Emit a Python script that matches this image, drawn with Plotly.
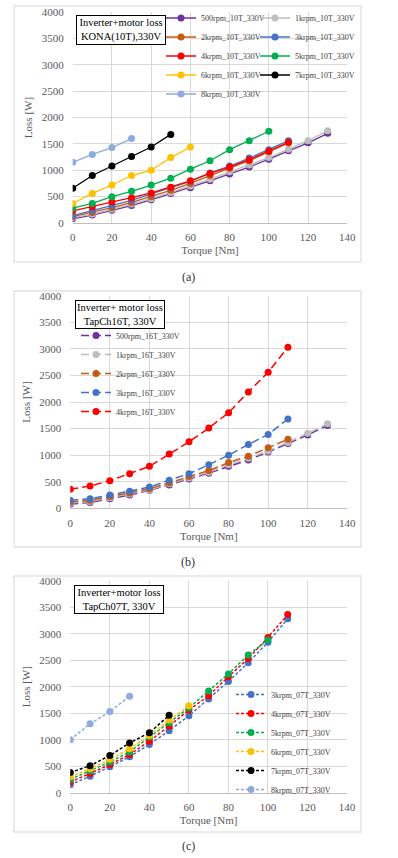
import plotly.graph_objects as go

W, H = 398, 858

# ---------------- data ----------------
torque = [0, 10, 20, 30, 40, 50, 60, 70, 80, 90, 100, 110, 120, 130]

# (a) KONA(10T), 330V
a_names = ["500rpm_10T_330V", "1krpm_10T_330V", "2krpm_10T_330V", "3krpm_10T_330V",
           "4krpm_10T_330V", "5krpm_10T_330V", "6krpm_10T_330V", "7krpm_10T_330V",
           "8krpm_10T_330V"]
a_500 = [80, 150, 240, 330, 440, 560, 670, 800, 930, 1060, 1210, 1370, 1520, 1700]
a_1k = [100, 170, 260, 360, 460, 580, 700, 830, 970, 1100, 1240, 1400, 1560, 1750]
a_2k = [120, 200, 290, 390, 500, 620, 750, 900, 1040, 1180, 1350, 1520]
a_3k = [140, 240, 330, 430, 550, 670, 790, 950, 1080, 1230, 1390, 1560]
a_4k = [230, 310, 400, 480, 570, 680, 800, 940, 1060, 1200, 1360, 1530]
a_5k = [280, 370, 500, 600, 720, 850, 1020, 1180, 1390, 1560, 1740]
a_6k = [370, 560, 720, 900, 1000, 1240, 1440]
a_7k = [660, 900, 1080, 1260, 1440, 1680]
a_8k = [1150, 1300, 1430, 1600]

# (b) TapCh16T, 330V
b_names = ["500rpm_16T_330V", "1krpm_16T_330V", "2krpm_16T_330V", "3krpm_16T_330V",
           "4krpm_16T_330V"]
b_500 = [80, 110, 180, 250, 340, 440, 550, 660, 790, 910, 1060, 1220, 1380, 1560]
b_1k = [100, 130, 200, 270, 350, 460, 570, 680, 820, 940, 1080, 1240, 1410, 1590]
b_2k = [120, 150, 220, 290, 370, 480, 600, 710, 860, 980, 1140, 1300]
b_3k = [150, 180, 250, 320, 400, 530, 650, 820, 1000, 1200, 1390, 1680]
b_4k = [360, 420, 520, 650, 790, 1020, 1250, 1510, 1800, 2190, 2560, 3030]

# (c) TapCh07T, 330V
c_names = ["3krpm_07T_330V", "4krpm_07T_330V", "5krpm_07T_330V", "6krpm_07T_330V",
           "7krpm_07T_330V", "8krpm_07T_330V"]
c_3k = [150, 310, 490, 680, 910, 1170, 1450, 1770, 2100, 2450, 2840, 3280]
c_4k = [200, 360, 530, 720, 970, 1260, 1560, 1830, 2190, 2530, 2930, 3360]
c_5k = [250, 410, 580, 770, 1050, 1320, 1600, 1920, 2240, 2600, 2880]
c_6k = [300, 450, 630, 830, 1080, 1370, 1640]
c_7k = [380, 510, 700, 940, 1130, 1460]
c_8k = [1000, 1300, 1530, 1820]

x_ticks = [0, 20, 40, 60, 80, 100, 120, 140]
y_ticks = [0, 500, 1000, 1500, 2000, 2500, 3000, 3500, 4000]

# colours (Excel palette)
PURPLE, GRAY, ORANGE, BLUE = "#7030A0", "#BDBDBD", "#C55A11", "#4472C4"
RED, GREEN, GOLD, BLACK, LBLUE = "#FF0000", "#00B050", "#FFC000", "#000000", "#8FAADC"

SERIF = "Liberation Serif, DejaVu Serif, serif"


def fx(px):
    return px / W


def fy(py):
    return 1 - py / H


fig = go.Figure()


def add(series, name, color, xa, ya, legend, dash="solid", width=1.3):
    fig.add_trace(go.Scatter(
        x=torque[:len(series)], y=series, name=name, mode="lines+markers",
        line=dict(color=color, width=width, dash=dash),
        marker=dict(color=color, size=7),
        xaxis=xa, yaxis=ya, legend=legend))


# (a)
a_series = [a_500, a_1k, a_2k, a_3k, a_4k, a_5k, a_6k, a_7k, a_8k]
a_colors = [PURPLE, GRAY, ORANGE, BLUE, RED, GREEN, GOLD, BLACK, LBLUE]
for i, (s, n, c) in enumerate(zip(a_series, a_names, a_colors)):
    add(s, n, c, "x", "y", "legend" if i % 2 == 0 else "legend2")

# (b)
b_series = [b_500, b_1k, b_2k, b_3k, b_4k]
b_colors = [PURPLE, GRAY, ORANGE, BLUE, RED]
for s, n, c in zip(b_series, b_names, b_colors):
    add(s, n, c, "x2", "y2", "legend3", dash="8px,4px", width=1.5)

# (c)
c_series = [c_3k, c_4k, c_5k, c_6k, c_7k, c_8k]
c_colors = [BLUE, RED, GREEN, GOLD, BLACK, LBLUE]
for s, n, c in zip(c_series, c_names, c_colors):
    add(s, n, c, "x3", "y3", "legend4", dash="3px,2px", width=1.5)

GRID = "#D9D9D9"
tickfont = dict(family=SERIF, size=11, color="#595959")
titlefont = dict(family=SERIF, size=11, color="#595959")


def xaxis(domain, anchor):
    return dict(domain=domain, anchor=anchor, range=[0, 140], tickvals=x_ticks,
                showgrid=True, gridcolor=GRID, gridwidth=1, zeroline=False,
                showline=True, linecolor="#BFBFBF", linewidth=1, mirror=False,
                ticks="", tickfont=tickfont, ticklabelstandoff=4, automargin=False,
                title=dict(text="Torque [Nm]", font=titlefont, standoff=4),
                fixedrange=True)


def yaxis(domain, anchor):
    return dict(domain=domain, anchor=anchor, range=[0, 4000], tickvals=y_ticks,
                showgrid=True, gridcolor=GRID, gridwidth=1, zeroline=False,
                showline=False, ticks="", tickfont=tickfont, ticklabelstandoff=8,
                automargin=False,
                title=dict(text="Loss [W]", font=titlefont, standoff=6),
                fixedrange=True)


legfont = dict(family=SERIF, size=8, color="#404040")


def legend(xpx, ypx):
    return dict(x=fx(xpx), y=fy(ypx), xanchor="left", yanchor="top",
                bgcolor="rgba(0,0,0,0)", borderwidth=0, font=legfont,
                itemwidth=30, tracegroupgap=0, orientation="v")


fig.update_layout(
    width=W, height=H, margin=dict(l=0, r=0, t=0, b=0, autoexpand=False),
    paper_bgcolor="white", plot_bgcolor="white",
    font=dict(family=SERIF),
    xaxis=xaxis([fx(72.7), fx(347.3)], "y"),
    yaxis=yaxis([fy(223), fy(12)], "x"),
    xaxis2=xaxis([fx(70.3), fx(347.3)], "y2"),
    yaxis2=yaxis([fy(508.3), fy(295.7)], "x2"),
    xaxis3=xaxis([fx(70.3), fx(347.0)], "y3"),
    yaxis3=yaxis([fy(792.7), fy(580.7)], "x3"),
    legend=legend(161, 3.5),
    legend2=legend(255, 3.5),
    legend3=legend(76, 321),
    legend4=legend(231, 680),
    showlegend=True,
)

# chart frames
for top, bot in [(6, 262), (291, 547), (576, 832)]:
    fig.add_shape(type="rect", xref="paper", yref="paper",
                  x0=fx(14), x1=fx(361), y0=fy(bot), y1=fy(top),
                  line=dict(color="#E3E3E3", width=1.5), fillcolor="rgba(0,0,0,0)",
                  layer="below")

# title boxes
boxes = [
    ("Inverter+motor loss<br>KONA(10T),330V", 121, 30),
    ("Inverter+ motor loss<br>TapCh16T, 330V", 120, 315),
    ("Inverter+motor loss<br>TapCh07T, 330V", 118.5, 599.5),
]
for txt, cx, cy in boxes:
    fig.add_annotation(text=txt, xref="paper", yref="paper", x=fx(cx), y=fy(cy),
                       xanchor="center", yanchor="middle", showarrow=False,
                       font=dict(family=SERIF, size=10.5, color="#000000"),
                       bordercolor="#000000", borderwidth=1, borderpad=1,
                       bgcolor="white", width=86, align="center")

# captions
for txt, cy in [("(a)", 277), ("(b)", 562), ("(c)", 846)]:
    fig.add_annotation(text=txt, xref="paper", yref="paper", x=fx(188), y=fy(cy),
                       xanchor="center", yanchor="middle", showarrow=False,
                       font=dict(family=SERIF, size=12, color="#333333"))

fig.write_html("out.html", config={"displayModeBar": False},
               post_script="document.body.style.margin='0';document.body.style.padding='0';")
